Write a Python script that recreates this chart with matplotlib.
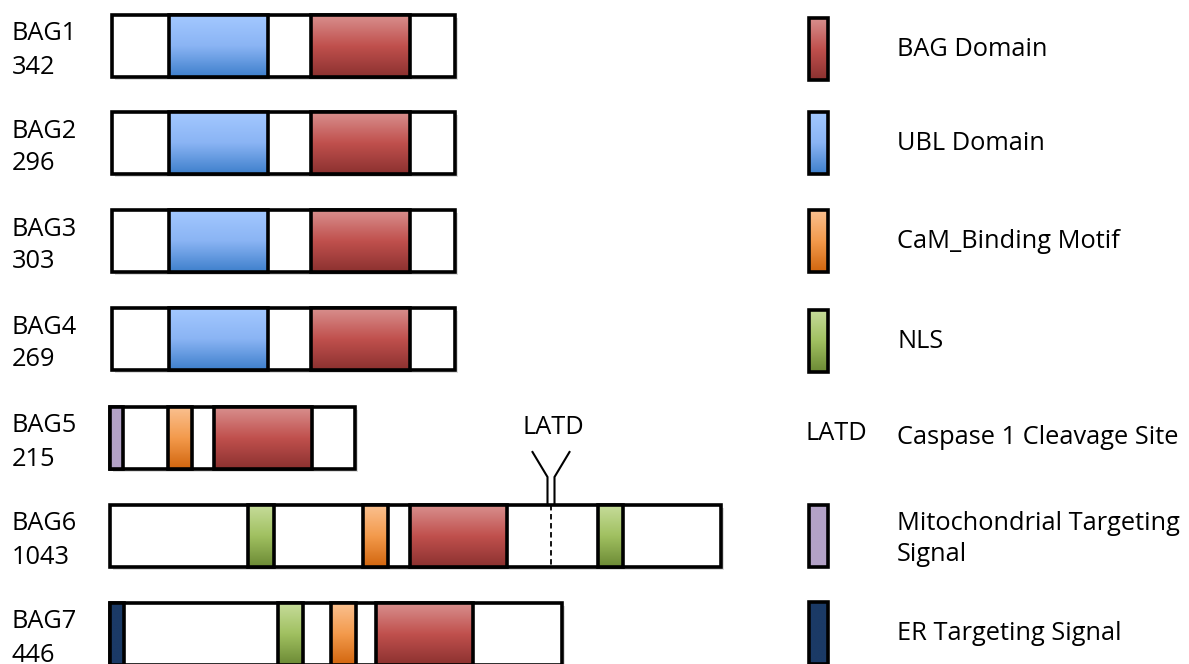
import numpy as np
import matplotlib.pyplot as plt
from matplotlib.patches import Rectangle
from matplotlib.colors import LinearSegmentedColormap

plt.rcParams['font.family'] = ['Open Sans', 'DejaVu Sans']

# proteins, lengths, and box extents in drawing units
names = ['BAG1', 'BAG2', 'BAG3', 'BAG4', 'BAG5', 'BAG6', 'BAG7']
lengths = ['342', '296', '303', '269', '215', '1043', '446']
row_top = [15, 112, 210, 308, 407, 505, 603]
box_start = [112, 112, 112, 112, 110, 110, 110]
box_end = [455, 455, 455, 455, 355, 721, 562]
row_h = 62

# domains: (row index, start, end)
bag_domain = [(0, 311, 410), (1, 311, 410), (2, 311, 410), (3, 311, 410),
              (4, 214, 312), (5, 410, 507), (6, 376, 473)]
ubl_domain = [(0, 169, 268), (1, 169, 268), (2, 169, 268), (3, 169, 268)]
cam_motif = [(4, 168, 192), (5, 363, 388), (6, 331, 356)]
nls = [(5, 248, 274), (5, 598, 623), (6, 278, 303)]
mito_signal = [(4, 110, 123)]
er_signal = [(6, 110, 124)]
cleavage_x = 551  # LATD site in BAG6

legend_labels = ['BAG Domain', 'UBL Domain', 'CaM_Binding Motif', 'NLS',
                 'Caspase 1 Cleavage Site', 'Mitochondrial Targeting\nSignal',
                 'ER Targeting Signal']
legend_top = [18, 112, 210, 310, 407, 505, 602]

grad = {
    'bag': ['#d88f8d', '#c0504d', '#8c3230'],
    'ubl': ['#a3c8ff', '#8ab4f4', '#3f80cc'],
    'cam': ['#fac08f', '#f39a4c', '#d2660f'],
    'nls': ['#c6dc9a', '#a0c060', '#6c8a35'],
    'mito': ['#b3a2c7', '#b3a2c7', '#b3a2c7'],
    'er': ['#1b3a66', '#1b3a66', '#1b3a66'],
}

FS = 18.3

fig = plt.figure(figsize=(11.89, 6.64), dpi=100)
ax = fig.add_axes([0, 0, 1, 1])
ax.set_xlim(0, 1189)
ax.set_ylim(664, 0)
ax.axis('off')

ramp = np.linspace(0, 1, 64).reshape(-1, 1)


def filled(x0, x1, y0, h, key, z=3):
    cmap = LinearSegmentedColormap.from_list(key, grad[key])
    im = ax.imshow(ramp, cmap=cmap, extent=(x0, x1, y0 + h, y0), aspect='auto',
                   zorder=z, interpolation='bilinear')
    r = Rectangle((x0, y0), x1 - x0, h, fill=False, ec='black', lw=2.6, zorder=z + 1)
    ax.add_patch(r)
    im.set_clip_path(r)


# protein boxes
for i in range(len(names)):
    y0 = row_top[i]
    ax.add_patch(Rectangle((box_start[i] + 3, y0 + 3), box_end[i] - box_start[i], row_h,
                           fc='#dddddd', ec='none', zorder=1))
    ax.add_patch(Rectangle((box_start[i], y0), box_end[i] - box_start[i], row_h,
                           fc='white', ec='black', lw=2.6, zorder=2))
    ax.text(12, y0 + 19, names[i], fontsize=FS, va='center', ha='left')
    ax.text(12, y0 + 52, lengths[i], fontsize=FS, va='center', ha='left')

for key, doms in [('bag', bag_domain), ('ubl', ubl_domain), ('cam', cam_motif),
                  ('nls', nls), ('mito', mito_signal), ('er', er_signal)]:
    for r, s, e in doms:
        filled(s, e, row_top[r], row_h, key)

# cleavage site marker on BAG6
y6 = row_top[5]
ax.plot([cleavage_x, cleavage_x], [y6, y6 + row_h], color='black', lw=1.3,
        ls=(0, (3, 2)), zorder=5)
for side in (-1, 1):
    xs = cleavage_x + side * 3.5
    ax.plot([xs + side * 15, xs, xs], [y6 - 53, y6 - 28, y6], color='black',
            lw=1.5, zorder=5, solid_joinstyle='miter')
ax.text(cleavage_x + 2, y6 - 77, 'LATD', fontsize=FS, ha='center', va='center')

# legend
legend_keys = ['bag', 'ubl', 'cam', 'nls', None, 'mito', 'er']
for key, lab, y0 in zip(legend_keys, legend_labels, legend_top):
    if key is None:
        ax.text(805, y0 + 27, 'LATD', fontsize=FS, ha='left', va='center')
    else:
        filled(809, 828, y0, 62, key)
    dy = 34 if '\n' in lab else 31
    ax.text(897, y0 + dy, lab, fontsize=FS, ha='left', va='center',
            linespacing=1.35)

fig.savefig('out.png', dpi=100)
